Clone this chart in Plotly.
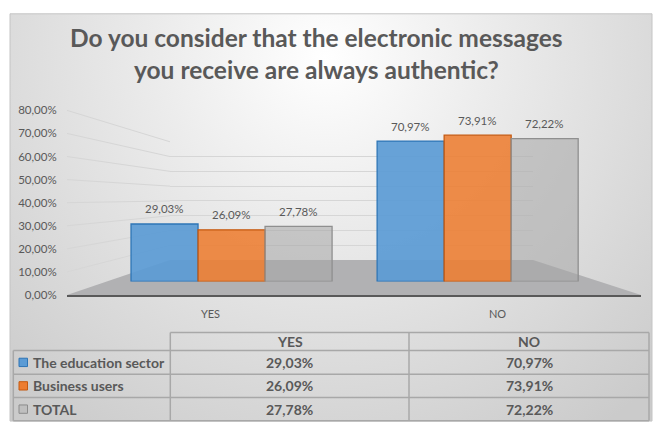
import base64
import plotly.graph_objects as go

# ---------------- data ----------------
categories = ["YES", "NO"]
series_names = ["The education sector", "Business users", "TOTAL"]
education = [29.03, 70.97]
business = [26.09, 73.91]
total = [27.78, 72.22]
series_values = [education, business, total]
y_ticks = [0, 10, 20, 30, 40, 50, 60, 70, 80]
title_lines = ["Do you consider that the electronic messages",
               "you receive are always authentic?"]

# ---------------- style ----------------
W, H = 653, 429
FONT = "Lato"
TXT = "#595959"
fills = ["rgba(91,155,213,0.92)", "rgba(237,125,49,0.88)", "rgba(165,165,165,0.55)"]
edges = ["#2e75b6", "#c55a11", "#8f8f8f"]
key_fill = ["#5b9bd5", "#ed7d31", "#bfbfbf"]
key_edge = ["#2e75b6", "#c55a11", "#8c8c8c"]
GRID = "#d6d6d6"
BARGAP = 0.183


def fx(p):
    return p / W


def fy(p):
    return 1 - p / H


def fmt(v):
    return f"{v:.2f}".replace(".", ",") + "%"


# geometry (pixels)
front_x = (67, 641)
front_y0, front_y80 = 297, 106.6
back_x = (170, 533)
back_y0, back_y80 = 261, 139
bar_dom_x = (108.5, 600.7)
bar_y0, bar_ymax, bar_range = 283, 99.4, 90

wall_dom_y = (fy(back_y0), fy(back_y80))
front_dom_y = (fy(front_y0), fy(front_y80))


def to_paper(dom, rng, v):
    return dom[0] + (v - rng[0]) / (rng[1] - rng[0]) * (dom[1] - dom[0])


fig = go.Figure()

# subplot 1: back wall grid
fig.add_trace(go.Scatter(x=[0.5], y=[0], mode="markers", marker=dict(opacity=0),
                         hoverinfo="skip", showlegend=False, xaxis="x", yaxis="y"))

# subplot 2: bars
for name, vals, fc, ec in zip(series_names, series_values, fills, edges):
    fig.add_trace(go.Bar(x=categories, y=vals, name=name, marker=dict(color=fc, line=dict(color=ec, width=1.3)),
                         xaxis="x2", yaxis="y2", showlegend=False, hoverinfo="skip"))

# subplot 3: front axis labels
fig.add_trace(go.Scatter(x=categories, y=[0, 0], mode="markers", marker=dict(opacity=0),
                         hoverinfo="skip", showlegend=False, xaxis="x3", yaxis="y3"))

shapes = []
# background frame
shapes.append(dict(type="rect", xref="paper", yref="paper", x0=fx(10), x1=fx(652), y0=fy(427), y1=fy(7),
                   line=dict(color="#c4c4c4", width=1), fillcolor="rgba(0,0,0,0)", layer="below"))
# floor
shapes.append(dict(type="path", xref="paper", yref="paper", layer="below",
                   path=f"M {fx(front_x[0])},{fy(front_y0)} L {fx(front_x[1])},{fy(front_y0)} "
                        f"L {fx(back_x[1])},{fy(back_y0)} L {fx(back_x[0])},{fy(back_y0)} Z",
                   fillcolor="#b1b1b3", line=dict(width=0)))
# side wall grid lines
for v in y_ticks[1:]:
    shapes.append(dict(type="line", xref="paper", yref="paper", layer="below",
                       x0=fx(front_x[0]), y0=to_paper(front_dom_y, (0, 80), v),
                       x1=fx(back_x[0]), y1=to_paper(wall_dom_y, (0, 80), v),
                       line=dict(color=GRID, width=1)))

annotations = []
# title
for k, line in enumerate(title_lines):
    annotations.append(dict(text=f"<b>{line}</b>", xref="paper", yref="paper", x=fx(316), y=fy(31 + 33 * k),
                            xanchor="center", yanchor="middle", showarrow=False,
                            font=dict(family=FONT, size=24.5, color=TXT)))
# data labels
bw = (1 - BARGAP) / len(series_values)
for j, vals in enumerate(series_values):
    for i, v in enumerate(vals):
        annotations.append(dict(text=fmt(v), xref="x2", yref="y2", x=i + (j - 1) * bw, y=v, yshift=15,
                                xanchor="center", yanchor="middle", showarrow=False,
                                font=dict(family=FONT, size=11.5, color=TXT)))

# data table
col_x = [13.3, 170.3, 409, 649]
row_y = [335.7, 354.3, 378.7, 402.7, 426.7]
TL = dict(color="#a8a8a8", width=1.5)
shapes.append(dict(type="line", xref="paper", yref="paper", x0=fx(col_x[1]), x1=fx(col_x[3]),
                   y0=fy(row_y[0]), y1=fy(row_y[0]), line=TL))
for ry in row_y[1:]:
    shapes.append(dict(type="line", xref="paper", yref="paper", x0=fx(col_x[0]), x1=fx(col_x[3]),
                       y0=fy(ry), y1=fy(ry), line=TL))
shapes.append(dict(type="line", xref="paper", yref="paper", x0=fx(col_x[0]), x1=fx(col_x[0]),
                   y0=fy(row_y[1]), y1=fy(row_y[4]), line=TL))
for cx in col_x[1:]:
    shapes.append(dict(type="line", xref="paper", yref="paper", x0=fx(cx), x1=fx(cx),
                       y0=fy(row_y[0]), y1=fy(row_y[4]), line=TL))

TF = dict(family=FONT, size=14, color=TXT)
for c, cat in enumerate(categories):
    annotations.append(dict(text=f"<b>{cat}</b>", xref="paper", yref="paper",
                            x=fx((col_x[c + 1] + col_x[c + 2]) / 2), y=fy((row_y[0] + row_y[1]) / 2),
                            xanchor="center", yanchor="middle", showarrow=False, font=TF))
for r, (name, vals) in enumerate(zip(series_names, series_values)):
    yc = (row_y[r + 1] + row_y[r + 2]) / 2
    annotations.append(dict(text=f"<b>{name}</b>", xref="paper", yref="paper", x=fx(30.5), y=fy(yc),
                            xanchor="left", yanchor="middle", showarrow=False, font=TF))
    shapes.append(dict(type="rect", xref="paper", yref="paper", x0=fx(19), x1=fx(27.5),
                       y0=fy(yc + 4.3), y1=fy(yc - 4.3), fillcolor=key_fill[r],
                       line=dict(color=key_edge[r], width=1)))
    for c, v in enumerate(vals):
        annotations.append(dict(text=f"<b>{fmt(v)}</b>", xref="paper", yref="paper",
                                x=fx((col_x[c + 1] + col_x[c + 2]) / 2), y=fy(yc),
                                xanchor="center", yanchor="middle", showarrow=False, font=TF))

# background gradient as inline svg
svg = (f'<svg xmlns="http://www.w3.org/2000/svg" width="642" height="420">'
       f'<defs><radialGradient id="g" gradientUnits="userSpaceOnUse" cx="315" cy="45" r="470">'
       f'<stop offset="0" stop-color="#ffffff"/><stop offset="0.35" stop-color="#ececec"/>'
       f'<stop offset="1" stop-color="#cbcbcb"/></radialGradient></defs>'
       f'<rect width="642" height="420" fill="url(#g)"/></svg>')
src = "data:image/svg+xml;base64," + base64.b64encode(svg.encode()).decode()

hidden = dict(showgrid=False, zeroline=False, showticklabels=False, showline=False, ticks="")
fig.update_layout(
    width=W, height=H, margin=dict(l=0, r=0, t=0, b=0),
    paper_bgcolor="white", plot_bgcolor="rgba(0,0,0,0)",
    separators=",.",
    barmode="group", bargap=BARGAP, bargroupgap=0,
    font=dict(family=FONT, color=TXT),
    images=[dict(source=src, xref="paper", yref="paper", x=fx(10), y=fy(7), sizex=642 / W, sizey=420 / H,
                 sizing="stretch", layer="below", xanchor="left", yanchor="top")],
    xaxis=dict(domain=[fx(back_x[0]), fx(back_x[1])], range=[0, 1], **hidden),
    yaxis=dict(domain=list(wall_dom_y), range=[0, 80], dtick=10, showgrid=True, gridcolor=GRID, gridwidth=1,
               zeroline=False, showticklabels=False, showline=False, ticks=""),
    xaxis2=dict(domain=[fx(bar_dom_x[0]), fx(bar_dom_x[1])], anchor="y2", range=[-0.5, 1.5], **hidden),
    yaxis2=dict(domain=[fy(bar_y0), fy(bar_ymax)], anchor="x2", range=[0, bar_range], **hidden),
    xaxis3=dict(domain=[fx(front_x[0]), fx(front_x[1])], anchor="y3", range=[-0.5, 1.5],
                showgrid=False, zeroline=False, showline=True, linecolor="#595959", linewidth=1.6,
                ticks="outside", ticklen=8, tickcolor="rgba(0,0,0,0)",
                tickfont=dict(family=FONT, size=11, color=TXT)),
    yaxis3=dict(domain=list(front_dom_y), anchor="x3", range=[0, 80], tickmode="array", tickvals=y_ticks,
                ticktext=[fmt(v) for v in y_ticks], showgrid=False, zeroline=False, showline=False,
                ticks="outside", ticklen=7, tickcolor="rgba(0,0,0,0)",
                tickfont=dict(family=FONT, size=11.5, color=TXT)),
    shapes=shapes, annotations=annotations,
)

fig.write_html("out.html")
